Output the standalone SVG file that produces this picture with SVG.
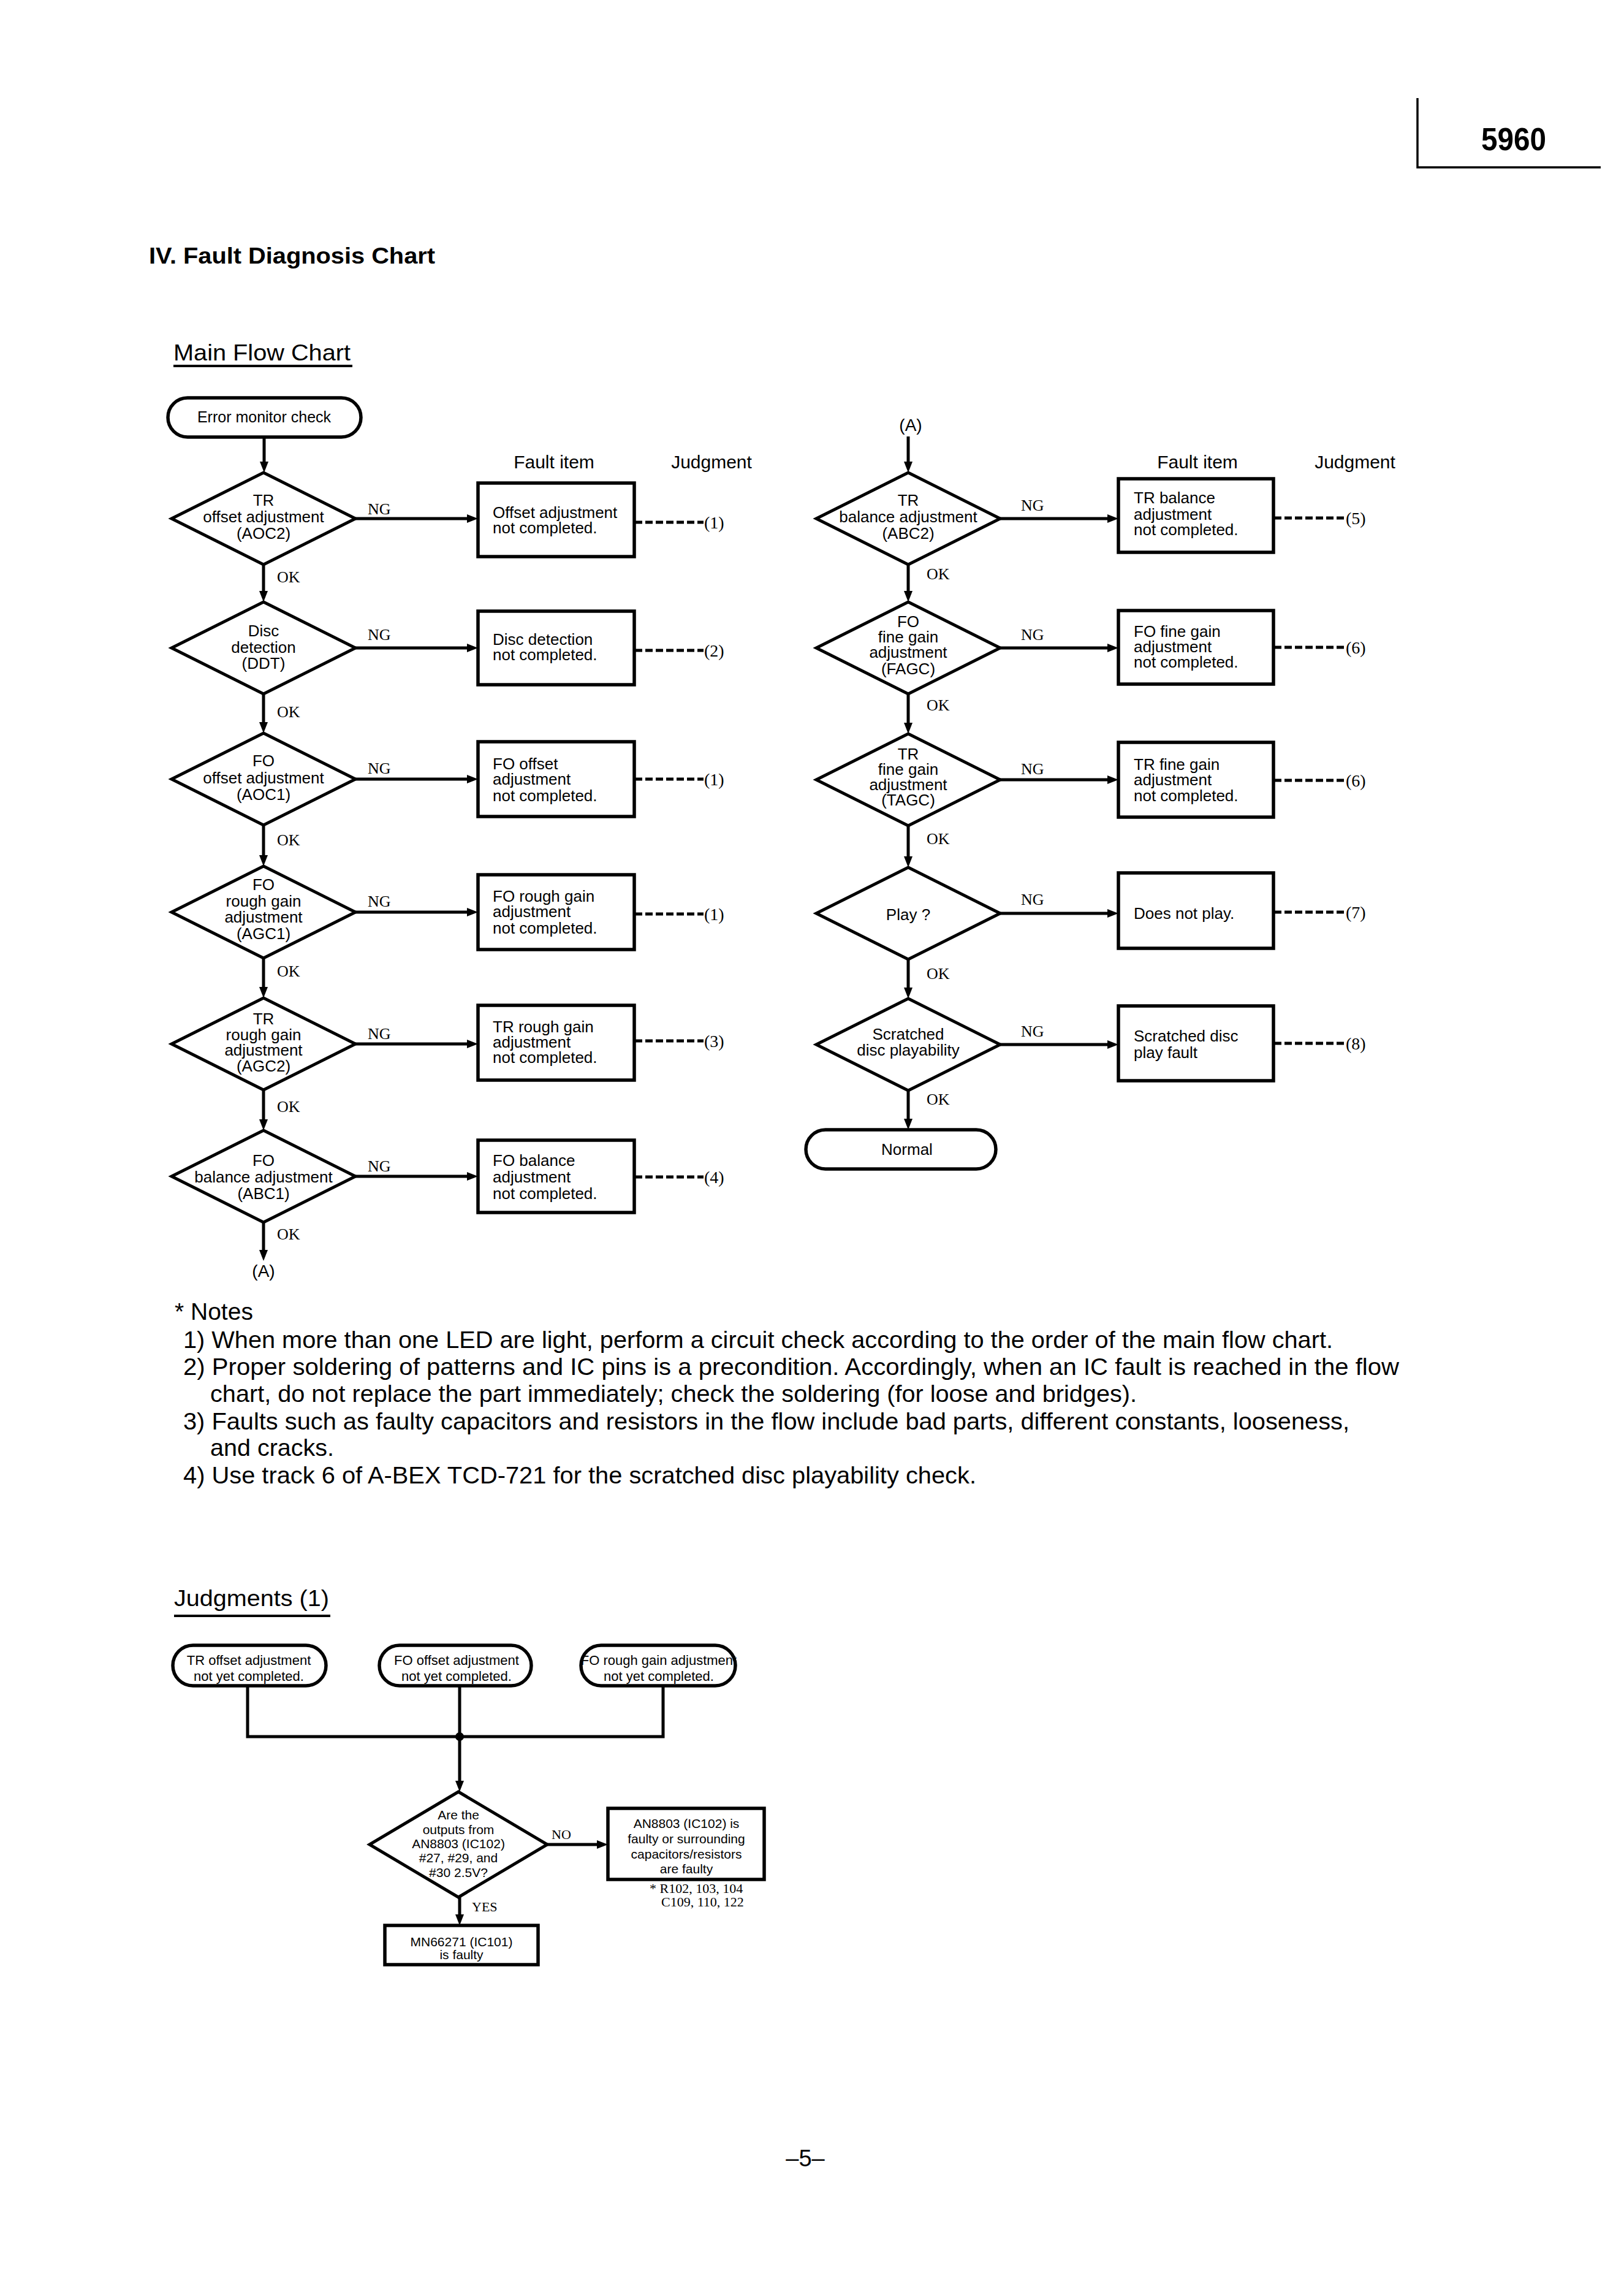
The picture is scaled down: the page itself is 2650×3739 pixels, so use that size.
<svg xmlns="http://www.w3.org/2000/svg" width="2650" height="3739" viewBox="0 0 2650 3739">
<style>
.t{font-family:"Liberation Sans",Arial,sans-serif;font-size:26px;fill:#000}
.m{text-anchor:middle}
.s{font-family:"Liberation Serif","Times New Roman",serif;font-size:26px;fill:#000}
.j{font-family:"Liberation Serif","Times New Roman",serif;font-size:28px;fill:#000}
.sm{font-size:21px}
.n{font-size:39px}
.box{fill:#fff;stroke:#000;stroke-width:5.5}
.dia{fill:#fff;stroke:#000;stroke-width:5;stroke-linejoin:miter}
.ln{fill:none;stroke:#000;stroke-width:5}
.arr{fill:none;stroke:#000;stroke-width:5;marker-end:url(#ah)}
.dash{fill:none;stroke:#000;stroke-width:5;stroke-dasharray:12 5}
</style>
<defs>
<marker id="ah" markerUnits="userSpaceOnUse" markerWidth="20" markerHeight="16" refX="10" refY="7" orient="auto">
<path d="M0,0 L18,7 L0,14 z" fill="#000"/>
</marker>
</defs>
<rect width="2650" height="3739" fill="#fff"/>

<g id="page-header">
<path class="ln" d="M2313,160 V273 H2612" style="stroke-width:3.5"/>
<text class="t" x="2417" y="245" style="font-size:52px;font-weight:bold" textLength="106" lengthAdjust="spacingAndGlyphs">5960</text>
<text class="t" x="243" y="430" style="font-size:36px;font-weight:bold" textLength="467" lengthAdjust="spacingAndGlyphs">IV. Fault Diagnosis Chart</text>
<text class="t" x="283" y="588" style="font-size:37px" textLength="289" lengthAdjust="spacingAndGlyphs">Main Flow Chart</text>
<line x1="283" y1="597" x2="575" y2="597" stroke="#000" stroke-width="4"/>
</g>

<g id="column-headers">
<text class="t m" x="904" y="764" style="font-size:30px">Fault item</text>
<text class="t m" x="1161" y="764" style="font-size:30px">Judgment</text>
<text class="t m" x="1954" y="764" style="font-size:30px">Fault item</text>
<text class="t m" x="2211" y="764" style="font-size:30px">Judgment</text>
</g>

<g id="connectors">
<line class="arr" x1="431" y1="713" x2="431" y2="763"/>
<line class="arr" x1="430" y1="921" x2="430" y2="974"/>
<line class="arr" x1="430" y1="1132" x2="430" y2="1188"/>
<line class="arr" x1="430" y1="1346" x2="430" y2="1405"/>
<line class="arr" x1="430" y1="1563" x2="430" y2="1620"/>
<line class="arr" x1="430" y1="1778" x2="430" y2="1836"/>
<line class="arr" x1="430" y1="1994" x2="430" y2="2049"/>
<line class="arr" x1="580" y1="846" x2="772" y2="846"/>
<line class="arr" x1="580" y1="1057" x2="772" y2="1057"/>
<line class="arr" x1="580" y1="1271" x2="772" y2="1271"/>
<line class="arr" x1="580" y1="1488" x2="772" y2="1488"/>
<line class="arr" x1="580" y1="1703" x2="772" y2="1703"/>
<line class="arr" x1="580" y1="1919" x2="772" y2="1919"/>
<line class="dash" x1="1036" y1="852" x2="1148" y2="852"/>
<line class="dash" x1="1036" y1="1061" x2="1148" y2="1061"/>
<line class="dash" x1="1036" y1="1271" x2="1148" y2="1271"/>
<line class="dash" x1="1036" y1="1491" x2="1148" y2="1491"/>
<line class="dash" x1="1036" y1="1698" x2="1148" y2="1698"/>
<line class="dash" x1="1036" y1="1920" x2="1148" y2="1920"/>
<line class="arr" x1="1482" y1="712" x2="1482" y2="763"/>
<line class="arr" x1="1482" y1="921" x2="1482" y2="974"/>
<line class="arr" x1="1482" y1="1132" x2="1482" y2="1189"/>
<line class="arr" x1="1482" y1="1347" x2="1482" y2="1407"/>
<line class="arr" x1="1482" y1="1565" x2="1482" y2="1621"/>
<line class="arr" x1="1482" y1="1779" x2="1482" y2="1835"/>
<line class="arr" x1="1630" y1="846" x2="1817" y2="846"/>
<line class="arr" x1="1630" y1="1057" x2="1817" y2="1057"/>
<line class="arr" x1="1630" y1="1272" x2="1817" y2="1272"/>
<line class="arr" x1="1630" y1="1490" x2="1817" y2="1490"/>
<line class="arr" x1="1630" y1="1704" x2="1817" y2="1704"/>
<line class="dash" x1="2079" y1="845" x2="2195" y2="845"/>
<line class="dash" x1="2079" y1="1056" x2="2195" y2="1056"/>
<line class="dash" x1="2079" y1="1273" x2="2195" y2="1273"/>
<line class="dash" x1="2079" y1="1488" x2="2195" y2="1488"/>
<line class="dash" x1="2079" y1="1702" x2="2195" y2="1702"/>
<polyline class="ln" points="404,2750 404,2833 1082,2833 1082,2750"/>
<line class="ln" x1="750" y1="2750" x2="750" y2="2833"/>
<circle cx="750" cy="2833" r="7" fill="#000"/>
<line class="arr" x1="750" y1="2833" x2="750" y2="2915"/>
<line class="arr" x1="893" y1="3009" x2="984" y2="3009"/>
<line class="arr" x1="750" y1="3095" x2="750" y2="3133"/>
</g>

<g id="connector-labels">
<text class="s" x="600" y="839">NG</text>
<text class="s" x="600" y="1044">NG</text>
<text class="s" x="600" y="1262">NG</text>
<text class="s" x="600" y="1479">NG</text>
<text class="s" x="600" y="1695">NG</text>
<text class="s" x="600" y="1911">NG</text>
<text class="s" x="452" y="950">OK</text>
<text class="s" x="452" y="1170">OK</text>
<text class="s" x="452" y="1379">OK</text>
<text class="s" x="452" y="1593">OK</text>
<text class="s" x="452" y="1814">OK</text>
<text class="s" x="452" y="2022">OK</text>
<text class="s" x="1666" y="833">NG</text>
<text class="s" x="1666" y="1044">NG</text>
<text class="s" x="1666" y="1263">NG</text>
<text class="s" x="1666" y="1476">NG</text>
<text class="s" x="1666" y="1691">NG</text>
<text class="s" x="1512" y="945">OK</text>
<text class="s" x="1512" y="1159">OK</text>
<text class="s" x="1512" y="1377">OK</text>
<text class="s" x="1512" y="1597">OK</text>
<text class="s" x="1512" y="1802">OK</text>
<text class="j" x="1149" y="862">(1)</text>
<text class="j" x="1149" y="1071">(2)</text>
<text class="j" x="1149" y="1281">(1)</text>
<text class="j" x="1149" y="1501">(1)</text>
<text class="j" x="1149" y="1708">(3)</text>
<text class="j" x="1149" y="1930">(4)</text>
<text class="j" x="2196" y="855">(5)</text>
<text class="j" x="2196" y="1066">(6)</text>
<text class="j" x="2196" y="1283">(6)</text>
<text class="j" x="2196" y="1498">(7)</text>
<text class="j" x="2196" y="1712">(8)</text>
<text class="t m" x="430" y="2083" style="font-size:28px">(A)</text>
<text class="t m" x="1486" y="703" style="font-size:28px">(A)</text>
<text class="s" x="900" y="3000" style="font-size:22px">NO</text>
<text class="s" x="770" y="3118" style="font-size:22px">YES</text>
</g>

<g id="start-error-monitor">
<rect class="box" x="274" y="649" width="315" height="64" rx="32"/>
<text class="t m" x="431" y="689" style="font-size:25px">Error monitor check</text>
</g>

<g id="d-tr-offset">
<polygon class="dia" points="430,771 580,846 430,921 280,846"/>
<text class="t m" x="430" y="825">TR</text>
<text class="t m" x="430" y="852">offset adjustment</text>
<text class="t m" x="430" y="879">(AOC2)</text>
</g>
<g id="d-disc-detection">
<polygon class="dia" points="430,982 580,1057 430,1132 280,1057"/>
<text class="t m" x="430" y="1038">Disc</text>
<text class="t m" x="430" y="1065">detection</text>
<text class="t m" x="430" y="1091">(DDT)</text>
</g>
<g id="d-fo-offset">
<polygon class="dia" points="430,1196 580,1271 430,1346 280,1271"/>
<text class="t m" x="430" y="1250">FO</text>
<text class="t m" x="430" y="1278">offset adjustment</text>
<text class="t m" x="430" y="1305">(AOC1)</text>
</g>
<g id="d-fo-rough">
<polygon class="dia" points="430,1413 580,1488 430,1563 280,1488"/>
<text class="t m" x="430" y="1452">FO</text>
<text class="t m" x="430" y="1479">rough gain</text>
<text class="t m" x="430" y="1505">adjustment</text>
<text class="t m" x="430" y="1532">(AGC1)</text>
</g>
<g id="d-tr-rough">
<polygon class="dia" points="430,1628 580,1703 430,1778 280,1703"/>
<text class="t m" x="430" y="1671">TR</text>
<text class="t m" x="430" y="1697">rough gain</text>
<text class="t m" x="430" y="1722">adjustment</text>
<text class="t m" x="430" y="1748">(AGC2)</text>
</g>
<g id="d-fo-balance">
<polygon class="dia" points="430,1844 580,1919 430,1994 280,1919"/>
<text class="t m" x="430" y="1902">FO</text>
<text class="t m" x="430" y="1929">balance adjustment</text>
<text class="t m" x="430" y="1956">(ABC1)</text>
</g>

<g id="b-offset">
<rect class="box" x="780" y="788" width="255" height="120"/>
<text class="t" x="804" y="845">Offset adjustment</text>
<text class="t" x="804" y="870">not completed.</text>
</g>
<g id="b-disc">
<rect class="box" x="780" y="997" width="255" height="120"/>
<text class="t" x="804" y="1052">Disc detection</text>
<text class="t" x="804" y="1077">not completed.</text>
</g>
<g id="b-fo-offset">
<rect class="box" x="780" y="1210" width="255" height="122"/>
<text class="t" x="804" y="1255">FO offset</text>
<text class="t" x="804" y="1280">adjustment</text>
<text class="t" x="804" y="1307">not completed.</text>
</g>
<g id="b-fo-rough">
<rect class="box" x="780" y="1427" width="255" height="122"/>
<text class="t" x="804" y="1471">FO rough gain</text>
<text class="t" x="804" y="1496">adjustment</text>
<text class="t" x="804" y="1523">not completed.</text>
</g>
<g id="b-tr-rough">
<rect class="box" x="780" y="1640" width="255" height="122"/>
<text class="t" x="804" y="1684">TR rough gain</text>
<text class="t" x="804" y="1709">adjustment</text>
<text class="t" x="804" y="1734">not completed.</text>
</g>
<g id="b-fo-balance">
<rect class="box" x="780" y="1860" width="255" height="118"/>
<text class="t" x="804" y="1902">FO balance</text>
<text class="t" x="804" y="1929">adjustment</text>
<text class="t" x="804" y="1956">not completed.</text>
</g>

<g id="d-tr-balance">
<polygon class="dia" points="1482,771 1632,846 1482,921 1332,846"/>
<text class="t m" x="1482" y="825">TR</text>
<text class="t m" x="1482" y="852">balance adjustment</text>
<text class="t m" x="1482" y="879">(ABC2)</text>
</g>
<g id="d-fo-fine">
<polygon class="dia" points="1482,982 1632,1057 1482,1132 1332,1057"/>
<text class="t m" x="1482" y="1023">FO</text>
<text class="t m" x="1482" y="1048">fine gain</text>
<text class="t m" x="1482" y="1073">adjustment</text>
<text class="t m" x="1482" y="1100">(FAGC)</text>
</g>
<g id="d-tr-fine">
<polygon class="dia" points="1482,1197 1632,1272 1482,1347 1332,1272"/>
<text class="t m" x="1482" y="1239">TR</text>
<text class="t m" x="1482" y="1264">fine gain</text>
<text class="t m" x="1482" y="1289">adjustment</text>
<text class="t m" x="1482" y="1314">(TAGC)</text>
</g>
<g id="d-play">
<polygon class="dia" points="1482,1415 1632,1490 1482,1565 1332,1490"/>
<text class="t m" x="1482" y="1501">Play ?</text>
</g>
<g id="d-scratched">
<polygon class="dia" points="1482,1629 1632,1704 1482,1779 1332,1704"/>
<text class="t m" x="1482" y="1696">Scratched</text>
<text class="t m" x="1482" y="1722">disc playability</text>
</g>
<g id="end-normal">
<rect class="box" x="1315" y="1843" width="310" height="64" rx="32"/>
<text class="t m" x="1480" y="1884">Normal</text>
</g>

<g id="b-tr-balance">
<rect class="box" x="1825" y="781" width="253" height="120"/>
<text class="t" x="1850" y="821">TR balance</text>
<text class="t" x="1850" y="848">adjustment</text>
<text class="t" x="1850" y="873">not completed.</text>
</g>
<g id="b-fo-fine">
<rect class="box" x="1825" y="996" width="253" height="120"/>
<text class="t" x="1850" y="1039">FO fine gain</text>
<text class="t" x="1850" y="1064">adjustment</text>
<text class="t" x="1850" y="1089">not completed.</text>
</g>
<g id="b-tr-fine">
<rect class="box" x="1825" y="1211" width="253" height="122"/>
<text class="t" x="1850" y="1256">TR fine gain</text>
<text class="t" x="1850" y="1281">adjustment</text>
<text class="t" x="1850" y="1307">not completed.</text>
</g>
<g id="b-play">
<rect class="box" x="1825" y="1424" width="253" height="123"/>
<text class="t" x="1850" y="1499">Does not play.</text>
</g>
<g id="b-scratched">
<rect class="box" x="1825" y="1641" width="253" height="122"/>
<text class="t" x="1850" y="1699">Scratched disc</text>
<text class="t" x="1850" y="1726">play fault</text>
</g>

<g id="notes">
<text class="t n" x="285" y="2153">* Notes</text>
<text class="t n" x="299" y="2199" textLength="1876" lengthAdjust="spacingAndGlyphs">1) When more than one LED are light, perform a circuit check according to the order of the main flow chart.</text>
<text class="t n" x="299" y="2243" textLength="1984" lengthAdjust="spacingAndGlyphs">2) Proper soldering of patterns and IC pins is a precondition.  Accordingly, when an IC fault is reached in the flow</text>
<text class="t n" x="343" y="2287" textLength="1512" lengthAdjust="spacingAndGlyphs">chart, do not replace the part immediately; check the soldering (for loose and bridges).</text>
<text class="t n" x="299" y="2332" textLength="1903" lengthAdjust="spacingAndGlyphs">3) Faults such as faulty capacitors and resistors in the flow include bad parts, different constants, looseness,</text>
<text class="t n" x="343" y="2375" textLength="202" lengthAdjust="spacingAndGlyphs">and cracks.</text>
<text class="t n" x="299" y="2420" textLength="1294" lengthAdjust="spacingAndGlyphs">4) Use track 6 of A-BEX TCD-721 for the scratched disc playability check.</text>
</g>

<g id="judgments-heading">
<text class="t" x="284" y="2620" style="font-size:37px" textLength="253" lengthAdjust="spacingAndGlyphs">Judgments (1)</text>
<line x1="284" y1="2636" x2="539" y2="2636" stroke="#000" stroke-width="4"/>
</g>

<g id="j-tr-offset">
<rect class="box" x="282" y="2684" width="250" height="66" rx="33"/>
<text class="t m" x="406" y="2716" style="font-size:22px">TR offset adjustment</text>
<text class="t m" x="406" y="2742" style="font-size:22px">not yet completed.</text>
</g>
<g id="j-fo-offset">
<rect class="box" x="619" y="2684" width="248" height="66" rx="33"/>
<text class="t m" x="745" y="2716" style="font-size:22px">FO offset adjustment</text>
<text class="t m" x="745" y="2742" style="font-size:22px">not yet completed.</text>
</g>
<g id="j-fo-rough">
<rect class="box" x="948" y="2684" width="252" height="66" rx="33"/>
<text class="t m" x="1075" y="2716" style="font-size:22px">FO rough gain adjustment</text>
<text class="t m" x="1075" y="2742" style="font-size:22px">not yet completed.</text>
</g>
<g id="j-decision">
<polygon class="dia" points="748,2923 893,3009 748,3095 603,3009"/>
<text class="t m sm" x="748" y="2968">Are the</text>
<text class="t m sm" x="748" y="2992">outputs from</text>
<text class="t m sm" x="748" y="3015">AN8803 (IC102)</text>
<text class="t m sm" x="748" y="3038">#27, #29, and</text>
<text class="t m sm" x="748" y="3062">#30 2.5V?</text>
</g>
<g id="j-an8803">
<rect class="box" x="992" y="2950" width="255" height="116"/>
<text class="t m sm" x="1120" y="2982">AN8803 (IC102) is</text>
<text class="t m sm" x="1120" y="3007">faulty or surrounding</text>
<text class="t m sm" x="1120" y="3032">capacitors/resistors</text>
<text class="t m sm" x="1120" y="3056">are faulty</text>
<text class="s" x="1060" y="3088" style="font-size:22px">* R102, 103, 104</text>
<text class="s" x="1079" y="3110" style="font-size:22px">C109, 110, 122</text>
</g>
<g id="j-mn66271">
<rect class="box" x="628" y="3141" width="250" height="64"/>
<text class="t m sm" x="753" y="3175">MN66271 (IC101)</text>
<text class="t m sm" x="753" y="3196">is faulty</text>
</g>

<g id="page-number">
<text class="t m" x="1314" y="3534" style="font-size:38px">–5–</text>
</g>
</svg>
